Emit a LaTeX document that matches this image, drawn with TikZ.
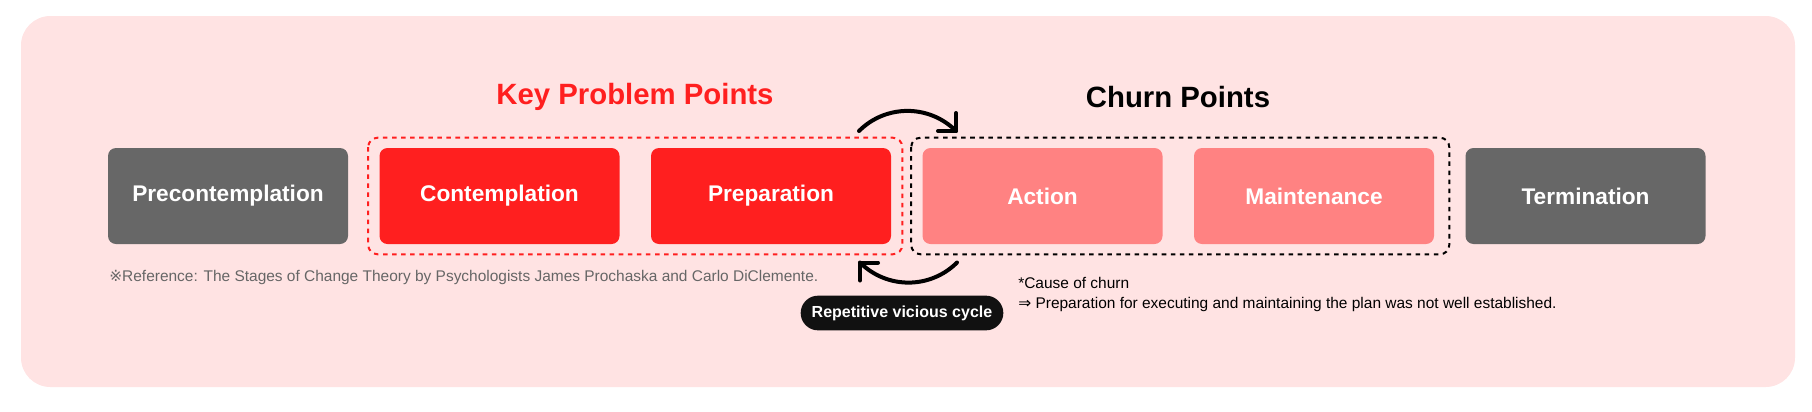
\documentclass[tikz,border=0pt]{standalone}
\usepackage{fontspec}
\setmainfont{Liberation Sans}
\newfontfamily\symfont{DejaVu Sans}
\definecolor{bgpink}{HTML}{FFE3E3}
\definecolor{keyred}{HTML}{FF1F1F}
\definecolor{churnred}{HTML}{FF8282}
\definecolor{stagegray}{HTML}{676767}
\definecolor{notegray}{HTML}{666666}
\definecolor{pillblack}{HTML}{111111}
\begin{document}
\begin{tikzpicture}[x=0.75pt,y=0.75pt,yscale=-1,xscale=1,
  stage/.style={rounded corners=6pt, minimum width=180pt, minimum height=72pt, inner sep=0pt, text=white, font=\fontsize{17}{20}\selectfont\bfseries},
  group/.style={line width=1.5pt, dash pattern=on 3.4pt off 3.4pt, rounded corners=7pt},
  cycle/.style={line width=3pt, line cap=round, line join=round}]
  \useasboundingbox (0,0) rectangle (1812,411);
  %Shape: Rectangle [id:background]
  \draw [fill=bgpink, draw=none, rounded corners=22pt] (21,16) rectangle (1795,387) ;

  %Shape: Stages
  \draw (228,196) node (prec) [stage, fill=stagegray] {Precontemplation};
  \draw (499.5,196) node (contem) [stage, fill=keyred] {Contemplation};
  \draw (771,196) node (prep) [stage, fill=keyred] {Preparation};
  \draw (1042.5,196) node (action) [stage, fill=churnred] {Action};
  \draw (1314,196) node (maint) [stage, fill=churnred] {Maintenance};
  \draw (1585.5,196) node (term) [stage, fill=stagegray] {Termination};

  %Shape: Dashed groups
  \draw [group, draw=keyred] ([shift={(-11,-10)}]contem.north west) rectangle ([shift={(11,10)}]prep.south east) ;
  \draw [group, draw=black] ([shift={(-11,-10)}]action.north west) rectangle ([shift={(15,10)}]maint.south east) ;

  % Text Node
  \draw (635,97) node (keyttl) [font=\fontsize{22}{26}\selectfont\bfseries, text=keyred] {Key Problem Points};
  % Text Node
  \draw (1178,97) node (churnttl) [font=\fontsize{22}{26}\selectfont\bfseries, text=black] {Churn Points};

  %Curve Lines: cycle arrows
  \coordinate (topS) at (859,131);
  \coordinate (topE) at (956,131);
  \coordinate (botS) at (957,262.5);
  \coordinate (botE) at (860,262.5);
  \draw [cycle] (topS) arc [start angle=225, end angle=315, radius=68.6] ;
  \draw [cycle] (topE) ++(-18,0) -- (topE) -- ++(0,-18) ;
  \draw [cycle] (botS) arc [start angle=45, end angle=135, radius=68.6] ;
  \draw [cycle] (botE) ++(18,0) -- (botE) -- ++(0,18) ;

  % Text Node
  \draw (902,313) node (vicious) [fill=pillblack, rounded corners=13pt, minimum width=152pt, minimum height=26pt, inner sep=0pt, text=white, font=\fontsize{12}{14}\selectfont\bfseries] {Repetitive vicious cycle};
  % Text Node
  \draw (109,277) node (refnote) [anchor=west, inner sep=0pt, text=notegray, font=\fontsize{11.6}{13}\selectfont] {{\symfont ※}Reference: The Stages of Change Theory by Psychologists James Prochaska and Carlo DiClemente.};
  % Text Node
  \draw (1018,283) node (cause) [anchor=west, inner sep=0pt, font=\fontsize{11.6}{13}\selectfont] {*Cause of churn};
  % Text Node
  \draw (1018,304) node (causetxt) [anchor=west, inner sep=0pt, font=\fontsize{11.6}{13}\selectfont] {{\symfont ⇒} Preparation for executing and maintaining the plan was not well established.};
\end{tikzpicture}
\end{document}
